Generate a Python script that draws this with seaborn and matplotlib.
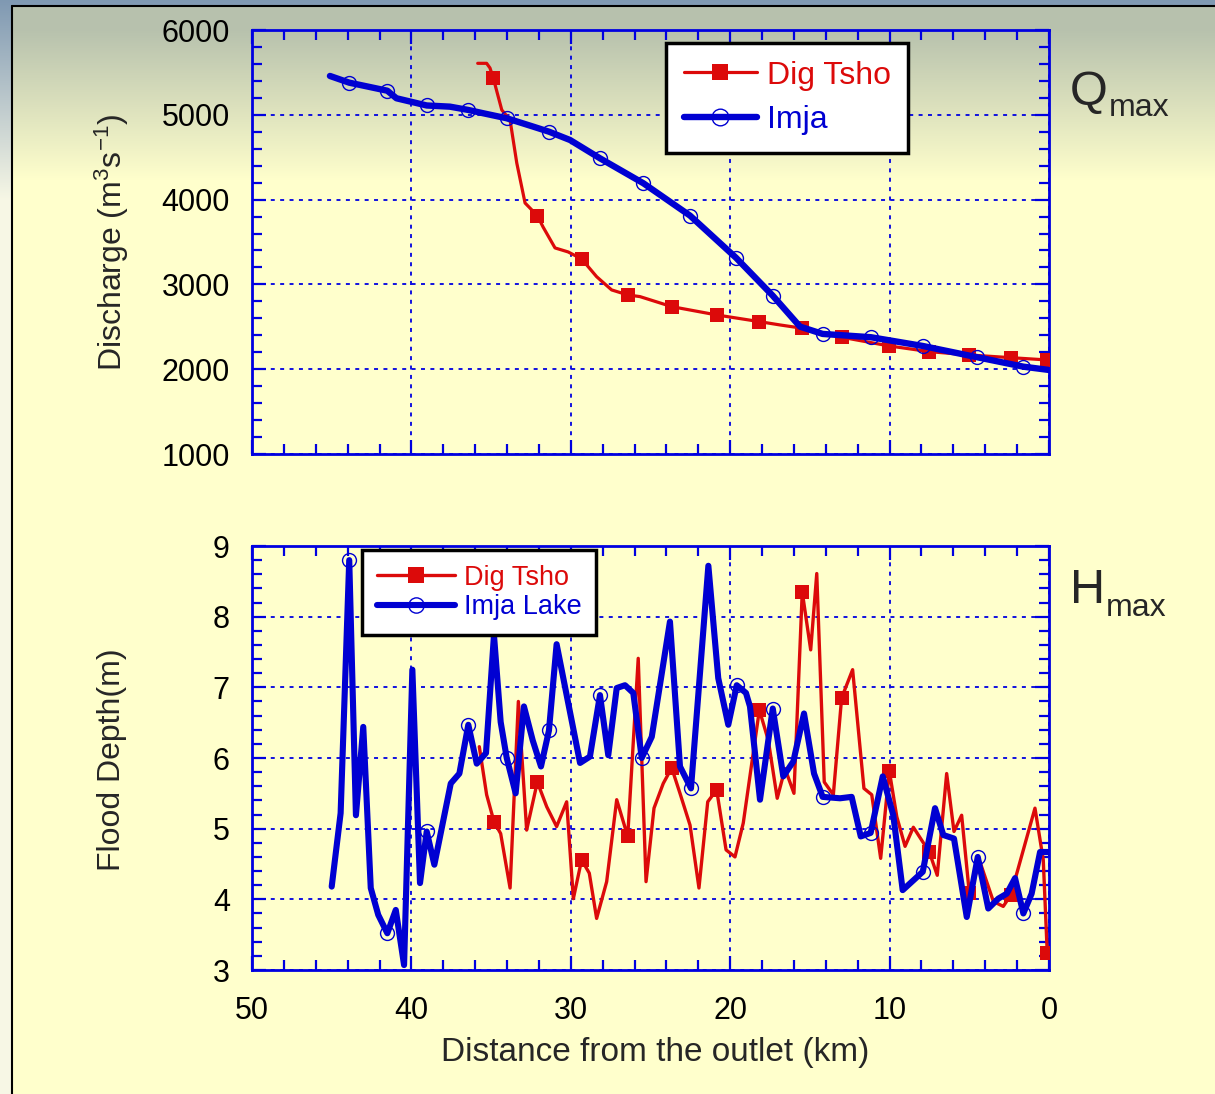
import numpy as np
import matplotlib
matplotlib.use("Agg")
import matplotlib.pyplot as plt
from matplotlib.lines import Line2D
from matplotlib.ticker import MultipleLocator
import seaborn as sns

# ---- data (km from outlet) ----
# upper panel: peak discharge Qmax
dig_q_km = [35.84, 35.28, 35.07, 34.86, 34.33, 33.81, 33.39, 32.87, 32.10, 31.74, 30.99, 30.17, 29.32, 28.38,
            27.44, 26.43, 25.66, 23.67, 20.85, 18.17, 16.88, 15.48, 13.00, 10.02, 7.51, 5.00, 2.40, 0.11]
dig_q = [5607, 5607, 5552, 5431, 5057, 4939, 4432, 3960, 3811, 3677, 3430, 3383, 3300, 3091,
         2935, 2876, 2856, 2738, 2640, 2561, 2522, 2483, 2377, 2274, 2207, 2168, 2136, 2109]
dig_q_marks = [3, 8, 12, 15, 17, 18, 19, 21, 22, 23, 24, 25, 26, 27]

imja_q_km = [45.11, 43.90, 43.22, 41.51, 40.94, 39.04, 37.58, 36.43, 35.49, 34.02, 32.35, 31.37, 30.05,
             28.17, 25.45, 22.52, 19.64, 17.33, 15.62, 14.20, 11.17, 7.92, 4.50, 1.61, 0.00]
imja_q = [5458, 5379, 5352, 5284, 5195, 5110, 5096, 5057, 5018, 4959, 4860, 4801, 4703,
          4487, 4193, 3811, 3315, 2867, 2502, 2416, 2377, 2274, 2141, 2030, 1991]
imja_q_marks = [1, 3, 5, 7, 9, 11, 13, 14, 15, 16, 17, 19, 20, 21, 22, 23]

# lower panel: flood depth Hmax
dig_h_km = [35.74, 35.28, 34.82, 34.40, 33.81, 33.29, 32.77, 32.10, 31.51, 30.89, 30.26, 29.84, 29.32, 28.84,
            28.38, 27.75, 27.12, 26.43, 25.77, 25.28, 24.78, 24.20, 23.67, 23.15, 22.52, 21.96, 21.41, 20.85,
            20.26, 19.70, 19.18, 18.17, 17.61, 17.05, 16.56, 16.00, 15.48, 14.95, 14.57, 14.10, 13.53, 13.01,
            12.32, 11.61, 11.12, 10.56, 10.02, 9.55, 9.03, 8.51, 7.51, 7.01, 6.42, 5.96, 5.48, 5.00,
            4.33, 3.49, 2.87, 2.40, 0.88, 0.36, 0.11]
dig_h = [6.16, 5.48, 5.10, 4.93, 4.16, 6.80, 4.98, 5.66, 5.31, 5.03, 5.38, 4.01, 4.56, 4.37,
         3.73, 4.25, 5.41, 4.89, 7.41, 4.25, 5.29, 5.64, 5.86, 5.50, 5.05, 4.16, 5.38, 5.55,
         4.70, 4.60, 5.08, 6.68, 6.25, 5.43, 5.85, 5.50, 8.35, 7.53, 8.61, 5.66, 5.48, 6.85,
         7.25, 5.57, 5.48, 4.58, 5.82, 5.17, 4.75, 5.02, 4.67, 4.34, 5.78, 4.96, 5.19, 4.09,
         4.53, 3.97, 3.90, 4.06, 5.29, 4.56, 3.24]
dig_h_marks = [2, 7, 12, 17, 22, 27, 31, 36, 41, 46, 50, 55, 59, 62]

imja_h_km = [45.00, 44.44, 43.90, 43.48, 43.02, 42.55, 42.08, 41.51, 40.98, 40.46, 39.94, 39.46, 39.04, 38.56,
             37.53, 36.99, 36.43, 35.90, 35.32, 34.82, 34.40, 34.02, 33.46, 32.94, 32.39, 31.87, 31.37, 30.89,
             29.42, 28.80, 28.17, 27.65, 27.12, 26.60, 26.08, 25.55, 24.92, 23.78, 23.15, 22.46, 21.37, 20.75,
             20.12, 19.59, 19.01, 18.76, 18.13, 17.33, 16.67, 16.04, 15.37, 14.74, 14.20, 13.11, 12.38, 11.81,
             11.19, 10.43, 9.77, 9.18, 7.92, 7.15, 6.63, 5.96, 5.16, 4.47, 3.81, 3.18, 2.65, 2.13,
             1.61, 1.09, 0.56, 0.00]
imja_h = [4.18, 5.22, 8.80, 5.19, 6.44, 4.16, 3.78, 3.52, 3.85, 3.07, 7.25, 4.23, 4.96, 4.49,
          5.64, 5.78, 6.47, 5.92, 6.07, 7.74, 6.51, 6.00, 5.50, 6.73, 6.25, 5.88, 6.39, 7.61,
          5.93, 6.02, 6.89, 6.04, 6.99, 7.03, 6.92, 6.00, 6.30, 7.93, 5.88, 5.57, 8.72, 7.13,
          6.47, 7.03, 6.92, 6.73, 5.41, 6.70, 5.74, 5.95, 6.63, 5.78, 5.45, 5.43, 5.45, 4.89,
          4.94, 5.74, 5.19, 4.13, 4.39, 5.29, 4.91, 4.86, 3.75, 4.60, 3.87, 4.01, 4.08, 4.30,
          3.80, 4.08, 4.67, 4.67]
imja_h_marks = [2, 7, 12, 16, 21, 26, 30, 35, 39, 43, 47, 52, 56, 60, 65, 70]

RED = "#DC0A0A"
BLUE = "#0000D2"
AXBLUE = "#0000E0"

sns.set_theme(style="ticks")
plt.rcParams["font.family"] = ["Liberation Sans", "DejaVu Sans"]
plt.rcParams["mathtext.fontset"] = "custom"
plt.rcParams["mathtext.rm"] = "Liberation Sans"
plt.rcParams["mathtext.it"] = "Liberation Sans:italic"

W, H = 1215, 1094
fig = plt.figure(figsize=(W / 100, H / 100), dpi=100)

# background: pale yellow page with a greyish sky tint on top
bg = fig.add_axes([0, 0, 1, 1], zorder=-5)
rows = np.arange(H)[:, None]
cols = np.arange(W)[None, :]
yellow = np.array([1.0, 1.0, 0.80])
grey = np.array([0.72, 0.76, 0.68])
t = np.clip((180 - rows) / 150.0, 0, 1)[..., None]
img = yellow * (1 - t) + grey * t
img = np.broadcast_to(img, (H, W, 3)).copy()
sky = (cols < 11) | (rows < 6)
skyc = np.array([0.50, 0.60, 0.70])
ts = np.clip((200 - rows) / 200.0, 0, 1)[..., None]
skyimg = skyc * ts + np.array([0.97, 0.97, 0.90]) * (1 - ts)
skyimg = np.broadcast_to(skyimg, (H, W, 3))
img[sky] = skyimg[sky]
bg.imshow(img, aspect="auto", extent=[0, 1, 0, 1])
bg.axis("off")
fig.add_artist(Line2D([11.5 / W, 11.5 / W], [0, 1 - 6 / H], color="black", lw=1.5))
fig.add_artist(Line2D([11.5 / W, 1], [1 - 6 / H, 1 - 6 / H], color="black", lw=1.5))

ax1 = fig.add_axes([252 / W, 1 - 454 / H, 797 / W, 424 / H])
ax2 = fig.add_axes([252 / W, 1 - 970 / H, 797 / W, 424 / H])

sns.lineplot(x=dig_q_km, y=dig_q, sort=False, estimator=None, ax=ax1, color=RED, lw=2.3,
             marker="s", markersize=10, markevery=dig_q_marks, markeredgewidth=0, zorder=3)
sns.lineplot(x=imja_q_km, y=imja_q, sort=False, estimator=None, ax=ax1, color=BLUE, lw=4.6,
             marker="o", markersize=10, markevery=imja_q_marks, markerfacecolor="none",
             markeredgecolor=BLUE, markeredgewidth=1.0, zorder=4)

sns.lineplot(x=dig_h_km, y=dig_h, sort=False, estimator=None, ax=ax2, color=RED, lw=2.4,
             marker="s", markersize=10, markevery=dig_h_marks, markeredgewidth=0, zorder=3)
sns.lineplot(x=imja_h_km, y=imja_h, sort=False, estimator=None, ax=ax2, color=BLUE, lw=4.4,
             marker="o", markersize=10, markevery=imja_h_marks, markerfacecolor="none",
             markeredgecolor=BLUE, markeredgewidth=1.0, zorder=4)

for ax in (ax1, ax2):
    ax.set_facecolor("none")
    ax.set_xlim(50, 0)
    ax.xaxis.set_major_locator(MultipleLocator(10))
    ax.xaxis.set_minor_locator(MultipleLocator(2))
    for s in ax.spines.values():
        s.set_visible(True)
        s.set_color(AXBLUE)
        s.set_linewidth(2)
    ax.tick_params(which="both", direction="in", top=True, right=True, color=AXBLUE,
                   width=1.6, labelsize=22, labelcolor="black")
    ax.tick_params(which="major", length=10)
    ax.tick_params(which="minor", length=7)
    ax.tick_params(axis="y", pad=16)
    ax.grid(True, which="major", color=AXBLUE, linestyle=(0, (2.2, 3)), linewidth=1.3)
    ax.set_xlabel("")
    ax.set_ylabel("")

ax1.set_ylim(1000, 6000)
ax1.yaxis.set_major_locator(MultipleLocator(1000))
ax1.yaxis.set_minor_locator(MultipleLocator(200))
ax1.tick_params(axis="x", labelbottom=False)

ax2.set_ylim(3, 9)
ax2.yaxis.set_major_locator(MultipleLocator(1))
ax2.yaxis.set_minor_locator(MultipleLocator(0.2))
ax2.tick_params(axis="x", pad=19)

# legends
def handles(lw_red, lw_blue, ms):
    return [Line2D([], [], color=RED, lw=lw_red, marker="s", markersize=ms, markeredgewidth=0),
            Line2D([], [], color=BLUE, lw=lw_blue, marker="o", markersize=ms,
                   markerfacecolor="none", markeredgecolor=BLUE, markeredgewidth=1.0)]

leg1 = ax1.legend(handles(2.3, 4.6, 12), ["Dig Tsho", "Imja"], loc="upper left",
                  bbox_to_anchor=(666 / W, 1 - 43 / H), bbox_transform=fig.transFigure,
                  fontsize=23, labelcolor=[RED, BLUE], frameon=True, fancybox=False,
                  edgecolor="black", framealpha=1, facecolor="white", handlelength=2.3,
                  handletextpad=0.3, borderpad=0.55, labelspacing=0.45, borderaxespad=0)
leg1.get_frame().set_linewidth(2.5)
leg2 = ax2.legend(handles(2.4, 4.4, 11), ["Dig Tsho", "Imja Lake"], loc="upper left",
                  bbox_to_anchor=(362 / W, 1 - 550 / H), bbox_transform=fig.transFigure,
                  fontsize=19.5, labelcolor=[RED, BLUE], frameon=True, fancybox=False,
                  edgecolor="black", framealpha=1, facecolor="white", handlelength=2.9,
                  handletextpad=0.3, borderpad=0.55, labelspacing=0.12, borderaxespad=0)
leg2.get_frame().set_linewidth(2.5)

# panel tags
fig.text(1070 / W, 1 - 105 / H, "Q", fontsize=35, ha="left", va="baseline")
fig.text(1109 / W, 1 - 116 / H, "max", fontsize=23, ha="left", va="baseline")
fig.text(1070 / W, 1 - 603 / H, "H", fontsize=35, ha="left", va="baseline")
fig.text(1106 / W, 1 - 616 / H, "max", fontsize=23, ha="left", va="baseline")

fig.text(112 / W, 1 - 242 / H, "Discharge (m$^3$s$^{-1}$)", fontsize=23, rotation=90,
         ha="center", va="center")
fig.text(112 / W, 1 - 760 / H, "Flood Depth(m)", fontsize=23, rotation=90,
         ha="center", va="center")
fig.text(655 / W, 1 - 1052 / H, "Distance from the outlet (km)", fontsize=24,
         ha="center", va="center")

fig.savefig("out.png", dpi=100)
